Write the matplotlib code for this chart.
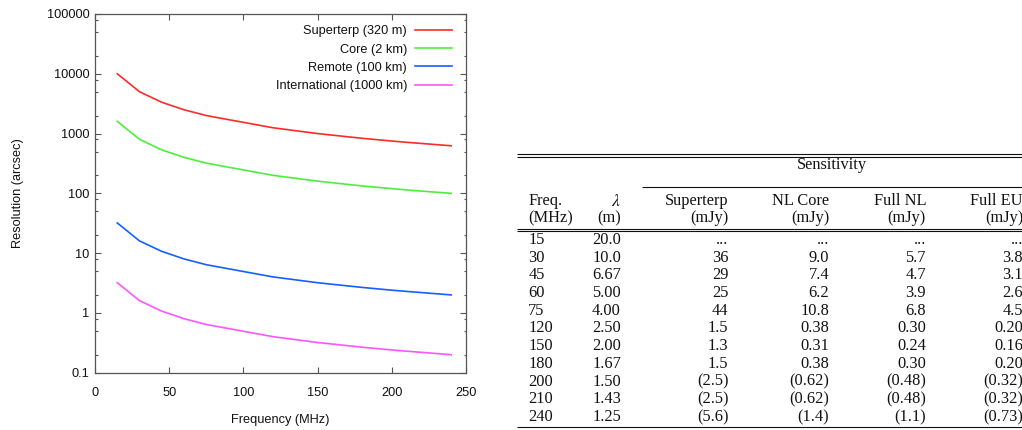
import matplotlib
matplotlib.use("Agg")
import matplotlib.pyplot as plt
from matplotlib import ticker

plt.rcParams["mathtext.fontset"] = "stix"

# Resolution vs frequency
freqs = [15, 30, 45, 60, 75, 120, 150, 180, 200, 210, 240]
superterp = [10000, 5000, 3333, 2500, 2000, 1250, 1000, 833, 750, 714, 625]
core = [1600, 800, 533, 400, 320, 200, 160, 133, 120, 114, 100]
remote = [32, 16, 10.7, 8.0, 6.4, 4.0, 3.2, 2.67, 2.4, 2.29, 2.0]
international = [3.2, 1.6, 1.07, 0.80, 0.64, 0.40, 0.32, 0.267, 0.24, 0.229, 0.20]
series_labels = ["Superterp (320 m)", "Core (2 km)", "Remote (100 km)", "International (1000 km)"]
series_colors = ["#ff2a2a", "#4cf03c", "#1460ff", "#ff55ff"]
y_ticks = [0.1, 1, 10, 100, 1000, 10000, 100000]

# Sensitivity table
tab_freq = ["15", "30", "45", "60", "75", "120", "150", "180", "200", "210", "240"]
tab_lambda = ["20.0", "10.0", "6.67", "5.00", "4.00", "2.50", "2.00", "1.67", "1.50", "1.43", "1.25"]
tab_superterp = ["...", "36", "29", "25", "44", "1.5", "1.3", "1.5", "(2.5)", "(2.5)", "(5.6)"]
tab_nlcore = ["...", "9.0", "7.4", "6.2", "10.8", "0.38", "0.31", "0.38", "(0.62)", "(0.62)", "(1.4)"]
tab_fullnl = ["...", "5.7", "4.7", "3.9", "6.8", "0.30", "0.24", "0.30", "(0.48)", "(0.48)", "(1.1)"]
tab_fulleu = ["...", "3.8", "3.1", "2.6", "4.5", "0.20", "0.16", "0.20", "(0.32)", "(0.32)", "(0.73)"]
tab_heads = ["Superterp", "NL Core", "Full NL", "Full EU"]

W, H = 1022, 430
fig = plt.figure(figsize=(W / 100, H / 100), dpi=100)

# ---- left: resolution plot ----
sans = "Liberation Sans"
axc = "#555555"
fsz = 9.2
ax = fig.add_axes([95 / W, 1 - 372.7 / H, 371 / W, 358.7 / H])
for vals, lab, col in zip([superterp, core, remote, international], series_labels, series_colors):
    ax.plot(freqs, vals, color=col, lw=1.2, label=lab)

ax.set_yscale("log")
ax.set_xlim(0, 250)
ax.set_ylim(y_ticks[0], y_ticks[-1])
ax.xaxis.set_major_locator(ticker.MultipleLocator(50))
ax.yaxis.set_major_locator(ticker.FixedLocator(y_ticks))
# minor ticks at 2, 5, 8 in each decade, like the original
minor = [d * m for d in y_ticks[:-1] for m in (2, 5, 8)]
ax.yaxis.set_minor_locator(ticker.FixedLocator(minor))
ax.yaxis.set_minor_formatter(ticker.NullFormatter())
ax.yaxis.set_major_formatter(ticker.FuncFormatter(lambda v, p: f"{v:g}"))
ax.tick_params(which="both", direction="in", top=True, right=True, colors=axc,
               labelcolor="#111111", labelsize=fsz, width=0.8)
ax.tick_params(which="major", length=4.2)
ax.tick_params(which="minor", length=1.8)
ax.tick_params(axis="x", pad=10)
ax.tick_params(axis="y", pad=4)
for lab in ax.get_xticklabels() + ax.get_yticklabels():
    lab.set_family(sans)
for s in ax.spines.values():
    s.set_color(axc)
    s.set_linewidth(0.9)

ax.set_xlabel("Frequency (MHz)", family=sans, fontsize=fsz, color="#111111", labelpad=11)
ax.set_ylabel("Resolution (arcsec)", family=sans, fontsize=fsz, color="#111111", labelpad=16)

leg = ax.legend(loc="upper right", bbox_to_anchor=(0.962, 0.969), frameon=False,
                markerfirst=False, handlelength=2.9, handletextpad=0.6,
                labelspacing=0.5, borderaxespad=0, borderpad=0,
                prop={"family": sans, "size": fsz})
for t in leg.get_texts():
    t.set_color("#111111")

# ---- right: sensitivity table ----
tb = fig.add_axes([0, 0, 1, 1])
tb.set_xlim(0, W)
tb.set_ylim(H, 0)
tb.axis("off")
serif = "Liberation Serif"
fs = 11.8
ink = "#111111"

def hline(y, x0, x1=W):
    tb.plot([x0, x1], [y, y], color=ink, lw=0.8, solid_capstyle="butt")

hline(154, 517)
hline(156.8, 517)
hline(187.3, 641.7)
hline(228.7, 517)
hline(231.3, 517)
hline(427.3, 517)

tb.text(831.7, 165, "Sensitivity", family=serif, fontsize=fs, color=ink, ha="center", va="center")

col_x = [728.3, 829.3, 926, 1023]
tb.text(528.3, 201, "Freq.", family=serif, fontsize=fs, color=ink, ha="left", va="center")
tb.text(528.3, 218.3, "(MHz)", family=serif, fontsize=fs, color=ink, ha="left", va="center")
tb.text(621, 201, r"$\lambda$", fontsize=fs + 1, color=ink, ha="right", va="center")
tb.text(621, 218.3, "(m)", family=serif, fontsize=fs, color=ink, ha="right", va="center")
for x, head in zip(col_x, tab_heads):
    tb.text(x, 201, head, family=serif, fontsize=fs, color=ink, ha="right", va="center")
    tb.text(x, 218.3, "(mJy)", family=serif, fontsize=fs, color=ink, ha="right", va="center")

row_y0, row_dy = 239.8, 17.74
cols = [tab_superterp, tab_nlcore, tab_fullnl, tab_fulleu]
for i in range(len(tab_freq)):
    y = row_y0 + i * row_dy
    tb.text(528.3, y, tab_freq[i], family=serif, fontsize=fs, color=ink, ha="left", va="center")
    tb.text(621, y, tab_lambda[i], family=serif, fontsize=fs, color=ink, ha="right", va="center")
    for x, col in zip(col_x, cols):
        tb.text(x, y, col[i], family=serif, fontsize=fs, color=ink, ha="right", va="center")

fig.savefig("out.png", dpi=100)
